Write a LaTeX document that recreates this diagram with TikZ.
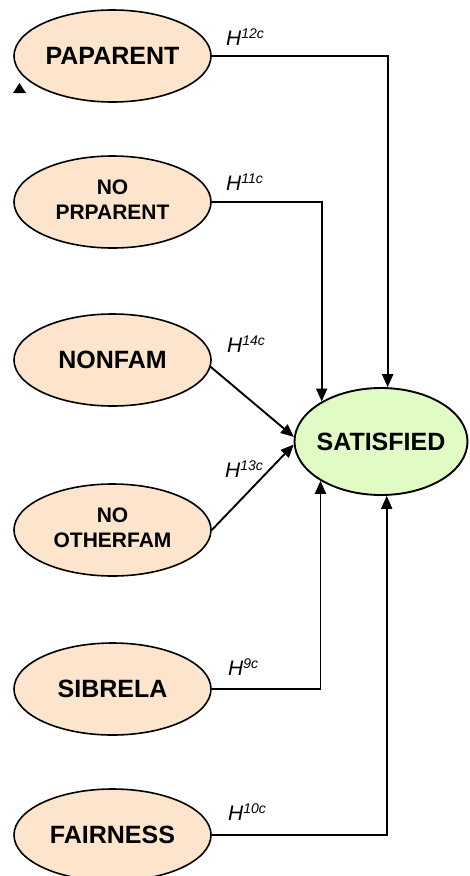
\documentclass[tikz,border=0pt]{standalone}
\usepackage{fontspec}
\setmainfont{Liberation Sans}
\usetikzlibrary{shapes.geometric,arrows.meta}
\definecolor{peach}{RGB}{252,229,204}
\definecolor{palegreen}{RGB}{224,252,196}
% hypothesis label: italic H with a small raised index
\newcommand{\hlab}[1]{{\fontsize{21}{24}\selectfont\itshape H\raisebox{6.5pt}{\fontsize{14}{15}\selectfont #1}}}
\newcommand{\twoline}[2]{\makebox[0pt]{\begin{tabular}{@{}c@{}}#1\\#2\end{tabular}}}
\tikzset{
  construct/.style={ellipse, draw, line width=1.6pt, fill=peach, inner sep=0pt,
    minimum width=197pt, minimum height=92pt, font=\bfseries\fontsize{25}{28}\selectfont},
  smalltext/.style={font=\bfseries\fontsize{21}{25.5}\selectfont},
  outcome/.style={ellipse, draw, line width=1.9pt, fill=palegreen, inner sep=0pt,
    minimum width=173pt, minimum height=107pt, font=\bfseries\fontsize{25}{28}\selectfont},
  link/.style={line width=1.9pt, -{Triangle[length=13pt,width=11pt]}},
  hyp/.style={anchor=base west, inner sep=0pt}
}
\begin{document}
\begin{tikzpicture}[x=1pt,y=-1pt]
\useasboundingbox (0,0) rectangle (469,876);

% predictor constructs
\node[construct] (pap)  at (112.5,56)  {\makebox[0pt]{PAPARENT}};
\node[construct, smalltext] (nopr) at (112.5,202) {\twoline{NO}{PRPARENT}};
\node[construct] (nonf) at (112.5,360) {\makebox[0pt]{NONFAM}};
\node[construct, smalltext] (noot) at (112.5,530) {\twoline{NO}{OTHERFAM}};
\node[construct] (sib)  at (112.5,689) {\makebox[0pt]{SIBRELA}};
\node[construct] (fair) at (112.5,835) {\makebox[0pt]{FAIRNESS}};

% outcome construct
\node[outcome] (sat) at (381,441.5) {\makebox[0pt]{SATISFIED}};

% paths
\draw[link] (pap.east)  -| (sat.83.6);
\draw[link] (nopr.east) -| (sat.146.3);
\draw[link] (nonf.-4)   -- (sat.177);
\draw[link] (noot.east) -- (sat.182);
\draw[link] (sib.east)  -| (sat.213.7);
\draw[link] (fair.east) -| (sat.276.4);

% hypothesis labels
\node[hyp] (h12) at (226,45)  {\hlab{12c}};
\node[hyp] (h11) at (226,190) {\hlab{11c}};
\node[hyp] (h14) at (227,352) {\hlab{14c}};
\node[hyp] (h13) at (225,477) {\hlab{13c}};
\node[hyp] (h9)  at (228,675) {\hlab{9c}};
\node[hyp] (h10) at (228,820) {\hlab{10c}};

% small marker under the first construct
\fill (13,93) -- (26,93) -- (19.5,83) -- cycle;
\end{tikzpicture}
\end{document}
